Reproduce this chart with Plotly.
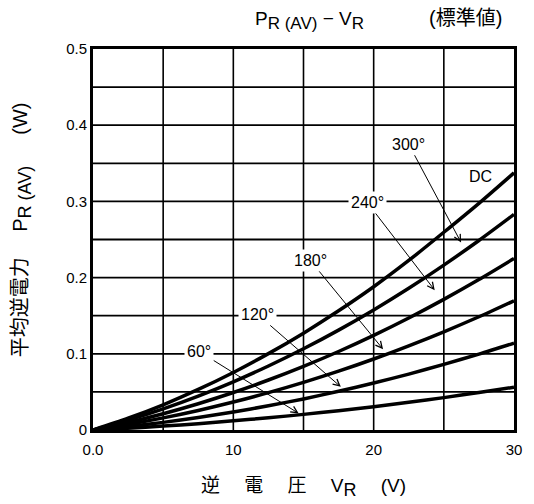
import plotly.graph_objects as go

# ---- data ----
vr = [0, 2.5, 5, 7.5, 10, 12.5, 15, 17.5, 20, 22.5, 25, 27.5, 30]
p_dc = [0, 0.0154, 0.0331, 0.0532, 0.0755, 0.1002, 0.1271, 0.1564, 0.188, 0.2225, 0.2595, 0.2975, 0.3375]
p_300 = [0, 0.0129, 0.0278, 0.0446, 0.0633, 0.0840, 0.1066, 0.1311, 0.1576, 0.1860, 0.2164, 0.2487, 0.2829]
p_240 = [0, 0.0099, 0.0214, 0.0345, 0.0492, 0.0656, 0.0835, 0.1030, 0.1242, 0.1470, 0.1714, 0.1974, 0.2250]
p_180 = [0, 0.0073, 0.0159, 0.0257, 0.0367, 0.0490, 0.0625, 0.0772, 0.0932, 0.1105, 0.1289, 0.1486, 0.1696]
p_120 = [0, 0.0046, 0.0100, 0.0164, 0.0236, 0.0318, 0.0408, 0.0508, 0.0616, 0.0734, 0.0861, 0.0996, 0.1141]
p_60 = [0, 0.0023, 0.0051, 0.0083, 0.0120, 0.0160, 0.0205, 0.0254, 0.0306, 0.0364, 0.0425, 0.0492, 0.0561]

series = [p_dc, p_300, p_240, p_180, p_120, p_60]

x_ticks = [0, 10, 20, 30]
x_tick_text = ["0.0", "10", "20", "30"]
y_ticks = [0, 0.1, 0.2, 0.3, 0.4, 0.5]
y_tick_text = ["0", "0.1", "0.2", "0.3", "0.4", "0.5"]
x_grid = [5, 10, 15, 20, 25]
y_grid = [0.05, 0.1, 0.15, 0.2, 0.25, 0.3, 0.35, 0.4, 0.45]

# label text, label position, arrow tip
labels = ["300°", "240°", "180°", "120°", "60°"]
label_x = [22.5, 19.54, 15.48, 11.73, 7.57]
label_y = [0.375, 0.2986, 0.2226, 0.1517, 0.103]
tip_x = [26.23, 24.35, 20.67, 17.66, 14.66]
tip_y = [0.246, 0.1835, 0.106, 0.0566, 0.0218]

FONT = "Liberation Sans, Arial, Noto Sans CJK JP, sans-serif"

fig = go.Figure()

for s in series:
    fig.add_trace(go.Scatter(x=vr, y=s, mode="lines",
                             line=dict(color="black", width=3.5, shape="spline", smoothing=0.8),
                             showlegend=False, hoverinfo="skip"))

for v in x_grid:
    fig.add_shape(type="line", x0=v, x1=v, y0=0, y1=0.5, xref="x", yref="y",
                  line=dict(color="black", width=1.6), layer="below")
for h in y_grid:
    fig.add_shape(type="line", x0=0, x1=30, y0=h, y1=h, xref="x", yref="y",
                  line=dict(color="black", width=1.8), layer="below")

for t, lx, ly, tx, ty in zip(labels, label_x, label_y, tip_x, tip_y):
    fig.add_annotation(x=tx, y=ty, ax=lx, ay=ly, xref="x", yref="y",
                       axref="x", ayref="y", text=t, showarrow=True,
                       arrowhead=5, arrowsize=1.3, arrowwidth=1, arrowcolor="black",
                       bgcolor="white", font=dict(family=FONT, size=16, color="black"),
                       borderpad=2)

fig.add_annotation(x=27.6, y=0.333, xref="x", yref="y", text="DC", showarrow=False,
                   font=dict(family=FONT, size=16, color="black"))

SUB_T = "<sub><span style='font-size:17px'>%s</span></sub>"
SUB_A = "<sub><span style='font-size:18px'>%s</span></sub>"

# chart title and note
fig.add_annotation(x=0.5135, y=1.0, xref="paper", yref="paper", xanchor="center",
                   yanchor="bottom", yshift=14,
                   text="P" + SUB_T % "R (AV)" + " − V" + SUB_T % "R", showarrow=False,
                   font=dict(family=FONT, size=19, color="black"))
fig.add_annotation(x=0.885, y=1.0, xref="paper", yref="paper", xanchor="center",
                   yanchor="bottom", yshift=18, text="(標準値)", showarrow=False,
                   font=dict(family=FONT, size=20, color="black"))

# axis titles
fig.add_annotation(x=0.5, y=0, xref="paper", yref="paper", xanchor="center",
                   yanchor="middle", yshift=-57,
                   text="逆　 電　 圧　 V" + SUB_A % "R" + "　 (V)", showarrow=False,
                   font=dict(family=FONT, size=19, color="black"))
fig.add_annotation(x=0, y=0.524, xref="paper", yref="paper", xanchor="center",
                   yanchor="middle", xshift=-71, textangle=-90,
                   text="平均逆電力　 P" + SUB_A % "R (AV)" + "　  (W)", showarrow=False,
                   font=dict(family=FONT, size=20, color="black"))

fig.update_layout(
    width=534, height=504,
    margin=dict(l=93, r=14.5, t=48.5, b=73.5),
    plot_bgcolor="white", paper_bgcolor="white",
    font=dict(family=FONT, size=15, color="black"),
    xaxis=dict(range=[0, 30], tickvals=x_ticks, ticktext=x_tick_text,
               showgrid=False, zeroline=False, showline=True, mirror=True,
               linecolor="black", linewidth=3, ticks="", ticklen=0,
               ticklabelstandoff=4,
               tickfont=dict(family=FONT, size=15)),
    yaxis=dict(range=[0, 0.5], tickvals=y_ticks, ticktext=y_tick_text,
               showgrid=False, zeroline=False, showline=True, mirror=True,
               linecolor="black", linewidth=3, ticks="", ticklen=0,
               tickfont=dict(family=FONT, size=15)),
)

fig.write_html("out.html", config={"displayModeBar": False},
               post_script="document.body.style.margin='0px';")
